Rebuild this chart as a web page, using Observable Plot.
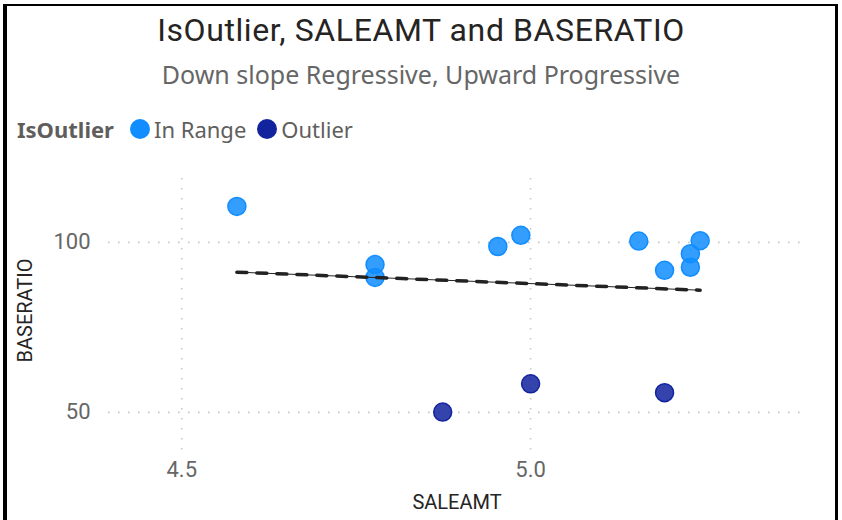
<!DOCTYPE html>
<html>
<head>
<meta charset="utf-8">
<script src="https://cdn.jsdelivr.net/npm/d3@7"></script>
<script src="https://cdn.jsdelivr.net/npm/@observablehq/plot@0.6"></script>
<style>
  html, body { margin: 0; padding: 0; background: #fff; }
  #wrap { position: relative; width: 842px; height: 520px; overflow: hidden; background: #fff; }
  #frame { position: absolute; left: 3px; top: 4px; width: 828px; height: 540px;
           border-left: 4px solid #000; border-top: 2px solid #000; border-right: 3px solid #000; }
  #title { position: absolute; left: 0; width: 842px; top: 10px; text-align: center; line-height: 40px;
           font-family: Roboto, sans-serif; font-size: 32px; letter-spacing: 0.6px; color: #252423; }
  #subtitle { position: absolute; left: 0; width: 842px; top: 57px; text-align: center; line-height: 34px;
           font-family: "Noto Sans", sans-serif; font-size: 25px; color: #666; }
  #legend { position: absolute; left: 17px; top: 113px; height: 32px; font-family: "Noto Sans", sans-serif; font-size: 22px;
           color: #605E5C; display: flex; align-items: center; white-space: nowrap; }
  #legend .ttl { font-weight: bold; margin-right: 16px; }
  #legend .sw { display: inline-block; width: 20px; height: 20px; border-radius: 50%; margin-right: 4px; }
  #legend .item { display: flex; align-items: center; margin-right: 11px; }
  #chart { position: absolute; left: 0; top: 160px; }
</style>
</head>
<body>
<div id="wrap">
  <div id="frame"></div>
  <div id="title"></div>
  <div id="subtitle"></div>
  <div id="legend"></div>
  <div id="chart"></div>
</div>
<script>
const titleText = "IsOutlier, SALEAMT and BASERATIO";
const subtitleText = "Down slope Regressive, Upward Progressive";
const legendTitle = "IsOutlier";
const categories = ["In Range", "Outlier"];
const colors = ["#118DFF", "#12239E"];

const saleamt   = [4.579, 4.777, 4.777, 4.953, 4.986, 5.155, 5.192, 5.229, 5.229, 5.243, 4.874, 5.000, 5.192];
const baseratio = [110.6, 93.5, 89.7, 98.8, 102.1, 100.4, 91.8, 96.7, 92.7, 100.5, 50.1, 58.4, 55.8];
const isOutlier = ["In Range","In Range","In Range","In Range","In Range","In Range","In Range","In Range","In Range","In Range","Outlier","Outlier","Outlier"];

const xTicks = [4.5, 5.0];
const yTicks = [50, 100];
const xLabel = "SALEAMT";
const yLabel = "BASERATIO";

const data = saleamt.map((x, i) => ({SALEAMT: x, BASERATIO: baseratio[i], IsOutlier: isOutlier[i]}));

document.getElementById("title").textContent = titleText;
document.getElementById("subtitle").textContent = subtitleText;
const leg = document.getElementById("legend");
const lt = document.createElement("span"); lt.className = "ttl"; lt.textContent = legendTitle; leg.appendChild(lt);
categories.forEach((c, i) => {
  const it = document.createElement("span"); it.className = "item";
  const sw = document.createElement("span"); sw.className = "sw"; sw.style.background = colors[i];
  const tx = document.createElement("span"); tx.textContent = c;
  it.appendChild(sw); it.appendChild(tx); leg.appendChild(it);
});

const gridStyle = {stroke: "#c8c8c8", strokeOpacity: 1, strokeWidth: 1.6, strokeDasharray: "1.6,8.4"};

const chart = Plot.plot({
  width: 842,
  height: 360,
  marginLeft: 108,
  marginRight: 37,
  marginTop: 18,
  marginBottom: 70,
  x: {domain: [4.395, 5.394]},
  y: {domain: [38.8, 118.8]},
  color: {domain: categories, range: colors},
  style: {fontFamily: "Roboto, sans-serif", fontSize: "22px", color: "#666", background: "transparent"},
  marks: [
    Plot.gridX(xTicks, gridStyle),
    Plot.gridY(yTicks, gridStyle),
    Plot.axisX(xTicks, {tickSize: 0, tickPadding: 11, tickFormat: d => d.toFixed(1), label: null, fill: "#666", fontSize: 22}),
    Plot.axisY(yTicks, {tickSize: 0, tickPadding: 18, tickFormat: d => String(d), label: null, fill: "#666", fontSize: 22}),
    Plot.text([xLabel], {frameAnchor: "bottom", lineAnchor: "middle", dy: 52, fill: "#252423", fontSize: 20}),
    Plot.text([yLabel], {frameAnchor: "left", textAnchor: "middle", lineAnchor: "middle", dx: -83, dy: -4, rotate: -90, fill: "#252423", fontSize: 20}),
    Plot.dot(data, {x: "SALEAMT", y: "BASERATIO", r: 9, fill: "IsOutlier", stroke: "IsOutlier", fillOpacity: 0.85, strokeWidth: 1.5}),
    Plot.linearRegressionY(data, {x: "SALEAMT", y: "BASERATIO", stroke: "#222", strokeWidth: 1, ci: 0}),
    Plot.linearRegressionY(data, {x: "SALEAMT", y: "BASERATIO", stroke: "#222", strokeWidth: 3.5, strokeDasharray: "10,10", ci: 0})
  ]
});
document.getElementById("chart").appendChild(chart);
</script>
</body>
</html>
